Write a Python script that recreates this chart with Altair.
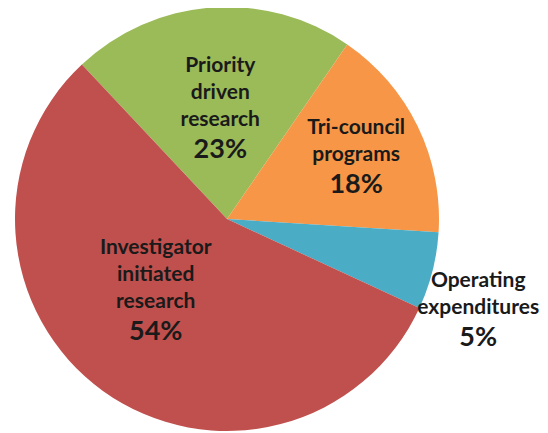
import math
import altair as alt
import pandas as pd

# ---- data ----
categories = [
    "Priority driven research",
    "Tri-council programs",
    "Operating expenditures",
    "Investigator initiated research",
]
shares = [21.6, 16.4, 5.9, 56.1]          # angular shares measured from the slices
pct_labels = ["23%", "18%", "5%", "54%"]  # printed labels
name_labels = [
    "Priority\ndriven\nresearch",
    "Tri-council\nprograms",
    "Operating\nexpenditures",
    "Investigator\ninitiated\nresearch",
]
colors = ["#9BBB59", "#F79646", "#4BACC6", "#C0504D"]

df = pd.DataFrame({
    "category": categories,
    "share": shares,
    "pct": pct_labels,
    "name": name_labels,
    "order": list(range(len(categories))),
})

# ---- layout (code, not data) ----
CX, CY, R = 219, 211, 212
START = math.radians(-43.2)
LH = 27
label_r = {categories[0]: 89, categories[1]: 140, categories[2]: 270, categories[3]: 117}
label_shift = {categories[0]: 0, categories[1]: 3.2, categories[2]: 7.3, categories[3]: 1.7}


def case_expr(mapping):
    expr = "0"
    for k, v in mapping.items():
        expr = f"(datum.category == '{k}' ? {v} : {expr})"
    return expr


arcs = alt.Chart(df).mark_arc(radius=R).encode(
    theta=alt.Theta("share:Q", stack=True,
                    scale=alt.Scale(range=[START, START + 2 * math.pi])),
    color=alt.Color("category:N", scale=alt.Scale(domain=categories, range=colors), legend=None),
    order=alt.Order("order:Q"),
    x=alt.value(CX),
    y=alt.value(CY),
)

text_base = (
    alt.Chart(df)
    .transform_joinaggregate(total="sum(share)")
    .transform_window(cum="sum(share)", sort=[alt.SortField("order")])
    .transform_calculate(
        ang=f"{START} + 2*PI*(datum.cum - datum.share/2)/datum.total + ({case_expr(label_shift)})*PI/180",
        lr=case_expr(label_r),
        nlines="length(split(datum.name, '\\n'))",
    )
    .transform_calculate(
        lx=f"{CX} + datum.lr*sin(datum.ang)",
        ly=f"{CY} - datum.lr*cos(datum.ang)",
    )
    .transform_calculate(
        ny=f"datum.ly - (datum.nlines - 1)*{LH}",
    )
)

FONT = "Lato"
TXT = "#1a1a1a"

names = text_base.mark_text(
    font=FONT, fontWeight="bold", fontSize=21, lineBreak="\n", lineHeight=LH,
    baseline="bottom", align="center", color=TXT,
).encode(
    x=alt.X("lx:Q", scale=None),
    y=alt.Y("ny:Q", scale=None),
    text="name:N",
)

pcts = text_base.mark_text(
    font=FONT, fontWeight="bold", fontSize=27,
    baseline="top", align="center", color=TXT, dy=7,
).encode(
    x=alt.X("lx:Q", scale=None),
    y=alt.Y("ly:Q", scale=None),
    text="pct:N",
)

chart = (
    alt.layer(arcs, names, pcts)
    .properties(width=532, height=425, padding=0, autosize=alt.AutoSizeParams(type="none"))
    .configure_view(stroke=None)
)

chart.save("out.html", embed_options={"renderer": "svg", "actions": False})
